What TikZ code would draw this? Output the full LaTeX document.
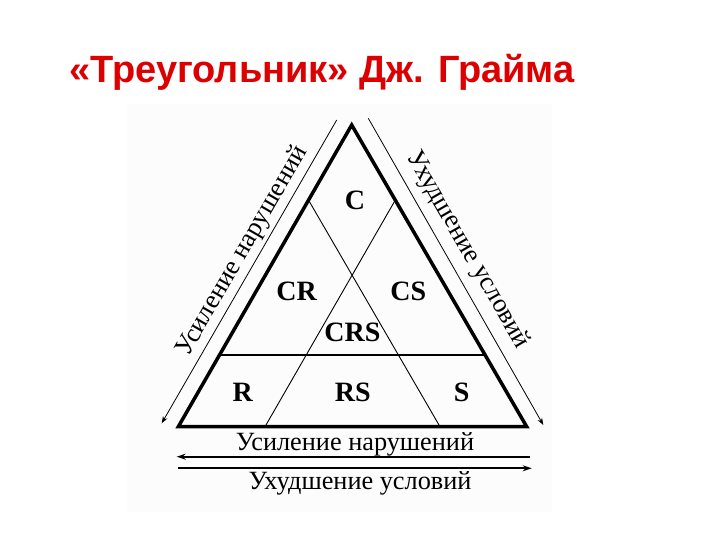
\documentclass[tikz,border=0pt]{standalone}
\usepackage{fontspec}
\setmainfont{Liberation Serif}
\newfontfamily\titlefont{Liberation Sans}
\usetikzlibrary{arrows.meta,calc}
\definecolor{titlered}{RGB}{220,0,0}
\begin{document}
\begin{tikzpicture}[x=1pt,y=-1pt,
  edge/.style={line width=3.5pt,line join=miter},
  inner/.style={line width=0.9pt},
  midline/.style={line width=1.3pt},
  sidearrow/.style={line width=0.8pt,-{Stealth[length=7pt,width=5pt]}},
  botarrow/.style={line width=2pt,-{Stealth[length=9pt,width=6pt]}},
  reg/.style={font=\fontsize{28}{28}\selectfont\bfseries,anchor=base,inner sep=0pt},
  axis/.style={font=\fontsize{26.3}{26.3}\selectfont,inner sep=0pt},
  ttl/.style={font=\titlefont\fontsize{38}{38}\selectfont\bfseries,text=titlered,anchor=base,inner sep=0pt}]
\useasboundingbox (0,0) rectangle (720,540);
\fill[white] (0,0) rectangle (720,540);
\fill[black!1.2] (127,104) rectangle (552,512);
\node[ttl] (title) at (322,83) {«Треугольник» Дж. Грайма};
% triangle
\coordinate (A) at (351.7,125);
\coordinate (BL) at (178.3,426.7);
\coordinate (BR) at (526.7,426.7);
\coordinate (P1) at ($(BL)!0.751!(A)$);
\coordinate (P2) at ($(BR)!0.751!(A)$);
\coordinate (Q1) at (265,426.7);
\coordinate (Q2) at (440,426.7);
\coordinate (H1) at ($(BL)!0.2377!(A)$);
\coordinate (H2) at ($(BR)!0.2377!(A)$);
\draw[inner] (P1) -- (Q2);
\draw[inner] (P2) -- (Q1);
\draw[midline] (H1) -- (H2);
\draw[edge] (A) -- (BR) -- (BL) -- cycle;
% region labels
\node[reg] (c) at (355,210) {C};
\node[reg] (cr) at (296.7,300) {CR};
\node[reg] (cs) at (408.3,300) {CS};
\node[reg] (crs) at (352.5,341.7) {CRS};
\node[reg] (r) at (242.7,401.7) {R};
\node[reg] (rs) at (352.7,401.7) {RS};
\node[reg] (s) at (461.7,401.7) {S};
% side arrows
\coordinate (LS) at (336.7,120);
\coordinate (LE) at (161.7,423.3);
\coordinate (RS) at (368.3,118.3);
\coordinate (RE) at (543.3,425);
\draw[sidearrow] (LS) -- (LE);
\draw[sidearrow] (RS) -- (RE);
\node[axis,rotate=60] (lt) at (242.5,251.5) {Усиление нарушений};
\node[axis,rotate=-60] (rt) at (467.5,250) {Ухудшение условий};
% bottom arrows
\coordinate (B1s) at (530,456.7);
\coordinate (B1e) at (176.7,456.7);
\coordinate (B2s) at (178.3,468.3);
\coordinate (B2e) at (531.7,468.3);
\draw[botarrow] (B1s) -- (B1e);
\draw[botarrow] (B2s) -- (B2e);
\node[axis,anchor=base] (bt1) at (355,450) {Усиление нарушений};
\node[axis,anchor=base] (bt2) at (360,489) {Ухудшение условий};
\end{tikzpicture}
\end{document}
